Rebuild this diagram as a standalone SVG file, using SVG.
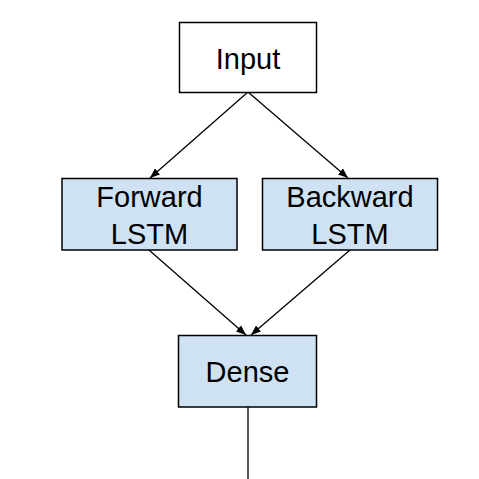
<svg xmlns="http://www.w3.org/2000/svg" width="479" height="479" viewBox="0 0 479 479">
<style>
.box{stroke:#000;stroke-width:1.5}
.blue{fill:#cfe2f3}
.white{fill:#fff}
.lbl{font-family:"Liberation Sans",Arial,sans-serif;font-size:29px;fill:#000;text-anchor:middle}
.edge{stroke:#000;stroke-width:1.3;fill:none}
</style>
<defs>
<marker id="arr" viewBox="0 0 10 8" refX="10" refY="4" markerWidth="10" markerHeight="8" markerUnits="userSpaceOnUse" orient="auto">
<path d="M0,0 L10,4 L0,8 z" fill="#000"/>
</marker>
</defs>
<rect width="479" height="479" fill="#fff"/>
<g id="connectors">
<line class="edge" x1="248" y1="92" x2="150" y2="178" marker-end="url(#arr)"/>
<line class="edge" x1="248" y1="92" x2="348" y2="178" marker-end="url(#arr)"/>
<line class="edge" x1="149" y1="250" x2="246" y2="335" marker-end="url(#arr)"/>
<line class="edge" x1="350" y1="250" x2="251" y2="335" marker-end="url(#arr)"/>
<line class="edge" x1="248" y1="407" x2="248" y2="479"/>
</g>
<g id="input">
<rect class="box white" x="179.5" y="22.5" width="137" height="70"/>
<text class="lbl" x="248" y="68.5">Input</text>
</g>
<g id="forward">
<rect class="box blue" x="62" y="178.5" width="175" height="71.5"/>
<text class="lbl" x="149.5" y="207">Forward</text>
<text class="lbl" x="149.5" y="244">LSTM</text>
</g>
<g id="backward">
<rect class="box blue" x="262.5" y="178.5" width="175" height="71.5"/>
<text class="lbl" x="350" y="207">Backward</text>
<text class="lbl" x="350" y="244">LSTM</text>
</g>
<g id="dense">
<rect class="box blue" x="178.5" y="335.5" width="138" height="71.5"/>
<text class="lbl" x="247.5" y="381.5">Dense</text>
</g>
</svg>
